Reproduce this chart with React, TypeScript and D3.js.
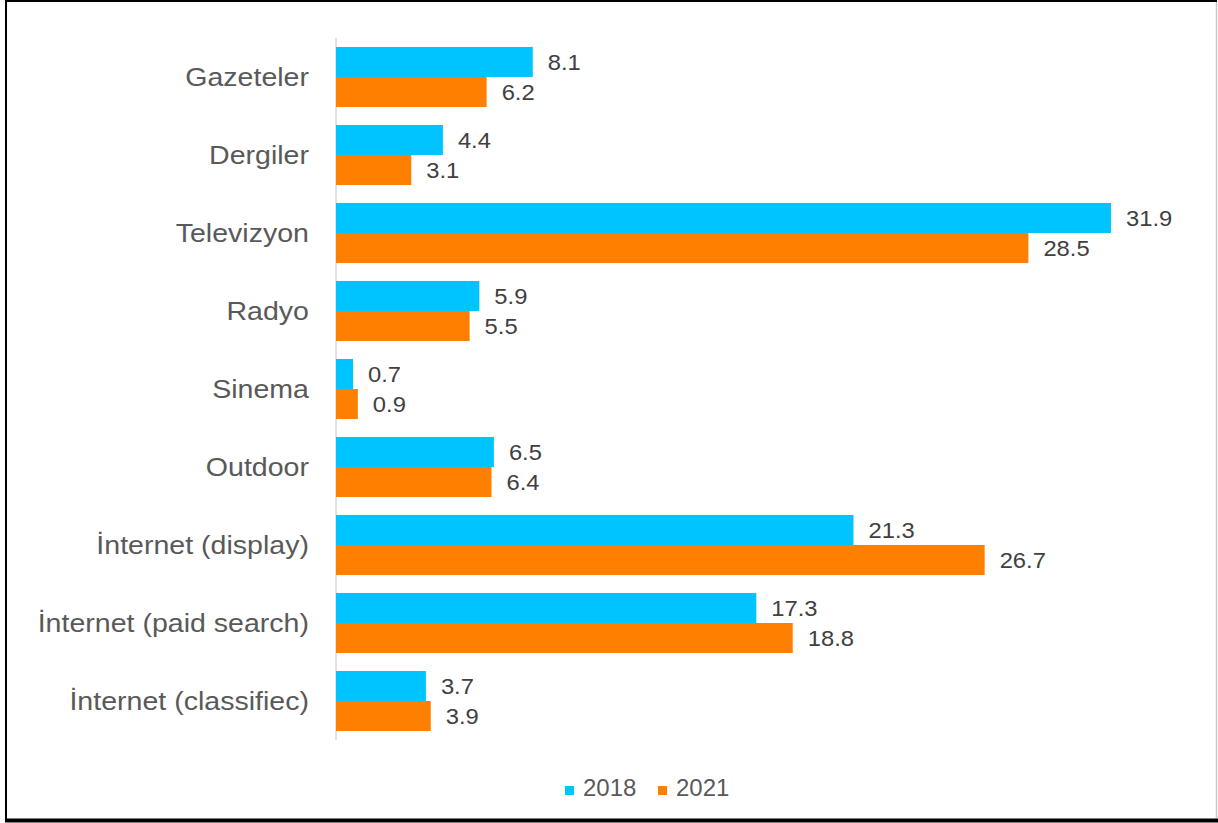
import React from "react";
import * as d3 from "d3";

const categories = [
  "Gazeteler",
  "Dergiler",
  "Televizyon",
  "Radyo",
  "Sinema",
  "Outdoor",
  "İnternet (display)",
  "İnternet (paid search)",
  "İnternet (classifiec)",
];
const values2018 = [8.1, 4.4, 31.9, 5.9, 0.7, 6.5, 21.3, 17.3, 3.7];
const values2021 = [6.2, 3.1, 28.5, 5.5, 0.9, 6.4, 26.7, 18.8, 3.9];
const seriesNames = ["2018", "2021"];
const colors = ["#00C4FF", "#FF7F00"];

export default function App() {
  const width = 1218;
  const height = 823;
  const x0 = 336;
  const yTop = 38;
  const yBottom = 740;

  const x = d3.scaleLinear().domain([0, 31.9]).range([x0, 1111]);
  const y = d3
    .scaleBand<string>()
    .domain(categories)
    .range([yTop, yBottom])
    .paddingInner(0.23)
    .paddingOuter(0.115);
  const sub = d3.scaleBand<string>().domain(seriesNames).range([0, y.bandwidth()]);

  const series = [values2018, values2021];
  const font = "'Liberation Sans', Arial, sans-serif";

  return (
    <svg
      width={width}
      height={height}
      style={{ position: "absolute", left: 0, top: 0, background: "#fff" }}
      fontFamily={font}
    >
      <rect x={0} y={0} width={width} height={height} fill="#fff" />
      {/* frame */}
      <line x1={5} x2={1217} y1={1} y2={1} stroke="#000" strokeWidth={2} />
      <line x1={6} x2={6} y1={0} y2={820} stroke="#000" strokeWidth={2} />
      <line x1={5} x2={1218} y1={820.5} y2={820.5} stroke="#000" strokeWidth={4} />
      <line x1={1216.5} x2={1216.5} y1={2} y2={818} stroke="#c8c8c8" strokeWidth={1.5} />

      {/* axis line */}
      <line x1={x0} x2={x0} y1={yTop} y2={yBottom} stroke="#d9d9d9" strokeWidth={1.5} />

      {categories.map((c) => (
        <text
          key={c}
          transform={`translate(309,${(y(c) ?? 0) + y.bandwidth() / 2}) scale(1.12,1)`}
          textAnchor="end"
          dominantBaseline="central"
          fontSize={25.5}
          fill="#595959"
        >
          {c}
        </text>
      ))}

      {series.map((vals, si) =>
        vals.map((v, i) => {
          const yy = (y(categories[i]) ?? 0) + (sub(seriesNames[si]) ?? 0);
          return (
            <g key={`${si}-${i}`}>
              <rect
                x={x(0)}
                y={yy}
                width={x(v) - x(0)}
                height={sub.bandwidth()}
                fill={colors[si]}
              />
              <text
                transform={`translate(${x(v) + 15},${yy + sub.bandwidth() / 2}) scale(1.08,1)`}
                dominantBaseline="central"
                fontSize={22}
                fill="#404040"
              >
                {v.toFixed(1)}
              </text>
            </g>
          );
        })
      )}

      {/* legend */}
      {seriesNames.map((s, i) => {
        const lx = 565 + i * 93;
        return (
          <g key={s}>
            <rect x={lx} y={786} width={9} height={9} fill={colors[i]} />
            <text
              x={lx + 18}
              y={796}
              fontSize={24}
              fill="#595959"
            >
              {s}
            </text>
          </g>
        );
      })}
    </svg>
  );
}
